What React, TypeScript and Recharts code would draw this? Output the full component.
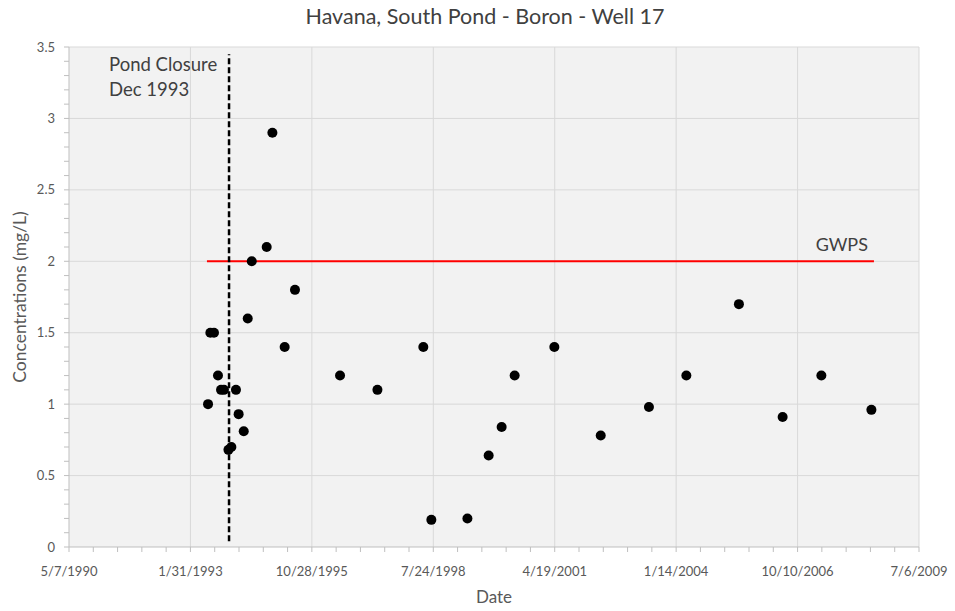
import {
  ReferenceLine,
  Scatter,
  ScatterChart,
  XAxis,
  YAxis,
} from 'recharts'

// sample dates as Excel day serials (33000 = 5/7/1990)
const sampleDays = [
  34145, 34164, 34194, 34227, 34252, 34276, 34313, 34337, 34375, 34397, 34439,
  34472, 34505, 34628, 34675, 34776, 34861, 35232, 35540, 35918, 35984, 36281,
  36456, 36563, 36670, 36997, 37379, 37776, 38084, 38517, 38877, 39196, 39608,
]
const boron = [
  1.0, 1.5, 1.5, 1.2, 1.1, 1.1, 0.68, 0.7, 1.1, 0.93, 0.81,
  1.6, 2.0, 2.1, 2.9, 1.4, 1.8, 1.2, 1.1, 1.4, 0.19, 0.2,
  0.64, 0.84, 1.2, 1.4, 0.78, 0.98, 1.2, 1.7, 0.91, 1.2, 0.96,
]

const gwps = 2
const gwpsRange = [34136, 39629]
const closureDay = 34318
const closureRange = [0.04, 3.45]

const xMajorTicks = [33000, 34000, 35000, 36000, 37000, 38000, 39000, 40000]
const xMinorStep = 200
const yMajorTicks = [0, 0.5, 1, 1.5, 2, 2.5, 3, 3.5]
const yMinorStep = 0.1

const xTicks: number[] = []
for (let d = 33000; d <= 40000; d += xMinorStep) xTicks.push(d)
const yTicks: number[] = []
for (let i = 0; i <= 35; i++) yTicks.push(Math.round(i * yMinorStep * 10) / 10)

const data = sampleDays.map((day, i) => ({ day, value: boron[i] }))

const fmtDate = (serial: number) => {
  const dt = new Date(Date.UTC(1899, 11, 30) + serial * 86400000)
  return `${dt.getUTCMonth() + 1}/${dt.getUTCDate()}/${dt.getUTCFullYear()}`
}

const FONT = 'Lato, "Open Sans", sans-serif'
const TEXT = '#595959'
const GRID = '#d9d9d9'

const Dot = (props: any) => <circle cx={props.cx} cy={props.cy} r={5} fill="#000" />

export default function App() {
  return (
    <div style={{ position: 'absolute', left: 0, top: 0, width: 955, height: 611, background: '#fff', fontFamily: FONT }}>
      <div
        style={{
          position: 'absolute',
          top: 3,
          left: 485,
          transform: 'translateX(-50%)',
          whiteSpace: 'nowrap',
          fontSize: 21.5,
          color: '#404040',
        }}
      >
        Havana, South Pond - Boron - Well 17
      </div>
      <ScatterChart
        width={955}
        height={611}
        margin={{ top: 47, right: 36, bottom: 34, left: 29 }}
        style={{ fontFamily: FONT }}
      >
        <rect x={69} y={47} width={850} height={500} fill="#f2f2f2" />
        {xMajorTicks.slice(1).map((t) => (
          <ReferenceLine key={`vx${t}`} x={t} stroke={GRID} strokeWidth={1} />
        ))}
        {yMajorTicks.slice(1).map((t) => (
          <ReferenceLine key={`hy${t}`} y={t} stroke={GRID} strokeWidth={1} />
        ))}
        <XAxis
          type="number"
          dataKey="day"
          domain={[33000, 40000]}
          ticks={xTicks}
          interval={0}
          tickFormatter={(v: number) => (v % 1000 === 0 ? fmtDate(v) : '')}
          tick={{ fill: TEXT, fontSize: 13, dy: 13 }}
          tickSize={5}
          stroke="#bfbfbf"
          height={30}
          label={{ value: 'Date', position: 'insideBottom', offset: -26, fill: TEXT, fontSize: 17 }}
        />
        <YAxis
          type="number"
          dataKey="value"
          domain={[0, 3.5]}
          ticks={yTicks}
          interval={0}
          tickFormatter={(v: number) =>
            Math.abs(v * 2 - Math.round(v * 2)) < 1e-6 ? String(v) : ''
          }
          tick={{ fill: TEXT, fontSize: 13 }}
          tickSize={5}
          tickMargin={9}
          stroke="#bfbfbf"
          width={40}
          label={{
            value: 'Concentrations (mg/L)',
            angle: -90,
            position: 'insideLeft',
            offset: -9,
            style: { textAnchor: 'middle' },
            fill: TEXT,
            fontSize: 17.5,
          }}
        />
        <ReferenceLine
          segment={[
            { x: gwpsRange[0], y: gwps },
            { x: gwpsRange[1], y: gwps },
          ]}
          stroke="#ff0000"
          strokeWidth={2}
          label={{
            content: ({ viewBox }: any) => (
              <text
                x={viewBox.x + viewBox.width - 6}
                y={viewBox.y - 10}
                textAnchor="end"
                fontSize={18}
                fill="#404040"
                fontFamily={FONT}
              >
                GWPS
              </text>
            ),
          }}
        />
        <ReferenceLine
          segment={[
            { x: closureDay, y: closureRange[0] },
            { x: closureDay, y: closureRange[1] },
          ]}
          stroke="#000"
          strokeWidth={2.5}
          strokeDasharray="6 3"
          label={{
            content: ({ viewBox }: any) => (
              <text x={viewBox.x - 120} y={viewBox.y + 17} fontSize={18.5} fill="#404040" fontFamily={FONT}>
                <tspan x={viewBox.x - 120}>Pond Closure</tspan>
                <tspan x={viewBox.x - 120} dy={25}>
                  Dec 1993
                </tspan>
              </text>
            ),
          }}
        />
        <Scatter data={data} fill="#000" shape={Dot} isAnimationActive={false} />
      </ScatterChart>
    </div>
  )
}
